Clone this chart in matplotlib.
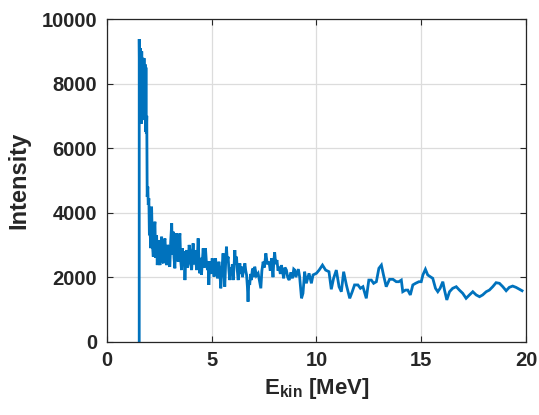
import matplotlib
matplotlib.use("Agg")
import matplotlib.pyplot as plt

energy = [1.55, 1.55, 1.58, 1.61, 1.64, 1.67, 1.70, 1.72, 1.75, 1.78, 1.81, 1.83, 1.85,
          1.87, 1.89, 1.91, 1.93,
          1.96, 1.98, 2.01, 2.035, 2.06, 2.10, 2.14, 2.18, 2.22, 2.26, 2.30, 2.33, 2.35,
          2.38, 2.41, 2.44, 2.46, 2.50, 2.54, 2.58, 2.62, 2.66, 2.70, 2.74, 2.78, 2.82,
          2.86, 2.90, 2.93, 2.97, 3.01, 3.05, 3.10, 3.13, 3.17, 3.21, 3.25, 3.29, 3.33,
          3.37, 3.41, 3.45, 3.49, 3.53, 3.57, 3.61, 3.65, 3.69, 3.73, 3.77, 3.81, 3.85,
          3.89, 3.93, 3.97, 4.01, 4.05, 4.09, 4.12, 4.16, 4.20, 4.25, 4.29, 4.33, 4.36,
          4.40, 4.44, 4.48, 4.52, 4.56, 4.60, 4.65, 4.71, 4.76, 4.81, 4.84, 4.87, 4.90,
          4.92, 4.97, 5.03, 5.08, 5.12, 5.16, 5.19, 5.24, 5.29, 5.32, 5.35, 5.40, 5.44,
          5.50, 5.55, 5.59, 5.63, 5.67, 5.71, 5.75, 5.79, 5.83, 5.87, 5.91, 5.95, 5.99,
          6.03, 6.07, 6.11, 6.15, 6.19, 6.23, 6.27, 6.31, 6.35, 6.39, 6.43, 6.47, 6.50,
          6.55, 6.59, 6.63, 6.67, 6.71, 6.74, 6.78, 6.82, 6.86, 6.90, 6.94, 6.98, 7.02,
          7.06, 7.14, 7.22, 7.28, 7.35, 7.40, 7.46, 7.52, 7.59, 7.66, 7.74, 7.80, 7.86,
          7.93, 7.97, 8.01, 8.06, 8.12, 8.17, 8.22, 8.28, 8.33, 8.38, 8.44, 8.50, 8.57,
          8.63, 8.70, 8.78, 8.86, 8.92, 8.97, 9.02, 9.08, 9.14, 9.20,
          9.29, 9.36, 9.44, 9.52, 9.65, 9.76, 9.84, 10.00, 10.13, 10.29, 10.44, 10.60,
          10.71, 10.82, 10.95, 11.08, 11.19, 11.30, 11.43, 11.59, 11.71, 11.82, 11.98,
          12.10, 12.22, 12.38, 12.50, 12.62, 12.73, 12.86, 12.98, 13.10, 13.20, 13.33,
          13.49, 13.65, 13.81, 13.93, 14.05, 14.12, 14.25, 14.36, 14.48, 14.60, 14.73,
          14.89, 15.00, 15.08, 15.20, 15.31, 15.43, 15.55, 15.68, 15.79, 15.90, 16.03,
          16.11, 16.22, 16.35, 16.50, 16.67, 16.82, 16.98, 17.14, 17.30, 17.46, 17.62,
          17.78, 17.93, 18.10, 18.25, 18.41, 18.57, 18.73, 18.89, 19.05, 19.20, 19.36,
          19.52, 19.68, 19.81]

intensity = [0, 9380, 7200, 9100, 6750, 9000, 6900, 8800, 6900, 8790, 6870, 8600, 6500,
             8500, 6450, 7000, 4490,
             4805, 4240, 4445, 3300, 3565, 2900, 4185, 3000, 2635, 3450, 3720, 2600, 2740,
             3300, 2375, 2900, 3150, 2500, 2375, 3000, 3255, 2500, 2430, 3100, 3200, 2500,
             2375, 3000, 2945, 2400, 2325, 3100, 3670, 2700, 3410, 2600, 2275, 3000, 3360,
             2600, 2480, 3100, 3360, 2500, 2220, 2900, 2480, 2800, 1910, 2600, 2840, 2300,
             2480, 3000, 2840, 2400, 2220, 2700, 3050, 2400, 2840, 2500, 2220, 2700, 3205,
             2500, 2120, 2600, 2070, 2500, 2895, 2300, 2895, 2400, 2220, 2500, 1760, 2300,
             2480, 2100, 2585, 2300, 2015, 2400, 2585, 2200, 1965, 2300, 2480, 2100, 1655,
             2300, 2740, 2200, 1705, 2400, 2945, 2500, 2635, 2200, 1910, 2300, 2120, 2400,
             1910, 2300, 2840, 2400, 2635, 2200, 1910, 2200, 2430, 2100, 2325, 2000, 2120,
             2300, 2430, 2200, 2070, 1700, 1240, 1900, 1760, 2100, 1910, 2200, 2275, 2000,
             2325, 2050, 2120, 1900, 1655, 2200, 2480, 2300, 2740, 2400, 2480, 2200, 2585,
             2000, 2500, 2770, 2400, 2530, 2200, 2325, 2100, 2375, 2200, 1965, 2300, 2220,
             2000, 1910, 2150, 1965, 2250, 2220, 2000, 2120, 2250, 2015,
             1345, 1500, 2170, 1810, 2120, 1810, 2070, 2120, 2220, 2375, 2220, 2170,
             1625, 1965, 2220, 1705, 1550, 2170, 1760, 1345, 1550, 1760, 1760,
             1655, 1705, 1345, 1910, 1910, 1810, 1860, 2275, 2375, 2070, 1705,
             1935, 1935, 1860, 1860, 1910, 1550, 1600, 1600, 1450, 1760, 1810,
             1860, 1860, 2070, 2245, 2070, 2015, 1965, 1655, 1550, 1655, 1860,
             1600, 1295, 1550, 1655, 1705, 1600, 1500, 1345, 1450, 1550, 1450,
             1395, 1450, 1550, 1600, 1705, 1830, 1810, 1705, 1580, 1685, 1725,
             1685, 1625, 1580]

xticks = [0, 5, 10, 15, 20]
yticks = [0, 2000, 4000, 6000, 8000, 10000]

plt.rcParams['font.family'] = ['Liberation Sans', 'DejaVu Sans']
plt.rcParams['font.weight'] = 'bold'
plt.rcParams['mathtext.fontset'] = 'custom'
plt.rcParams['mathtext.rm'] = 'Liberation Sans:bold'
plt.rcParams['mathtext.default'] = 'rm'

fig = plt.figure(figsize=(5.39, 4.15), dpi=100)
ax = fig.add_axes([0.198, 0.1766, 0.778, 0.7774])

ax.plot(energy, intensity, color='#0072BD', lw=2.0, solid_joinstyle='miter')

ax.set_xlim(0, 20)
ax.set_ylim(0, 10000)
ax.set_xticks(xticks)
ax.set_yticks(yticks)
ax.grid(True, color='#dcdcdc', lw=0.9)
ax.set_axisbelow(True)

dark = '#262626'
for s in ax.spines.values():
    s.set_color(dark)
    s.set_linewidth(0.9)
ax.tick_params(direction='in', length=4, width=0.8, color=dark, top=True, right=True,
               labelsize=14.5, labelcolor=dark, pad=7)
for lab in ax.get_xticklabels() + ax.get_yticklabels():
    lab.set_fontweight('bold')

ax.set_xlabel(r'E$_{\mathrm{kin}}$ [MeV]', fontsize=16, fontweight='bold', color=dark, labelpad=4)
ax.set_ylabel('Intensity', fontsize=17, fontweight='bold', color=dark, labelpad=8)

fig.savefig('out.png', dpi=100)
